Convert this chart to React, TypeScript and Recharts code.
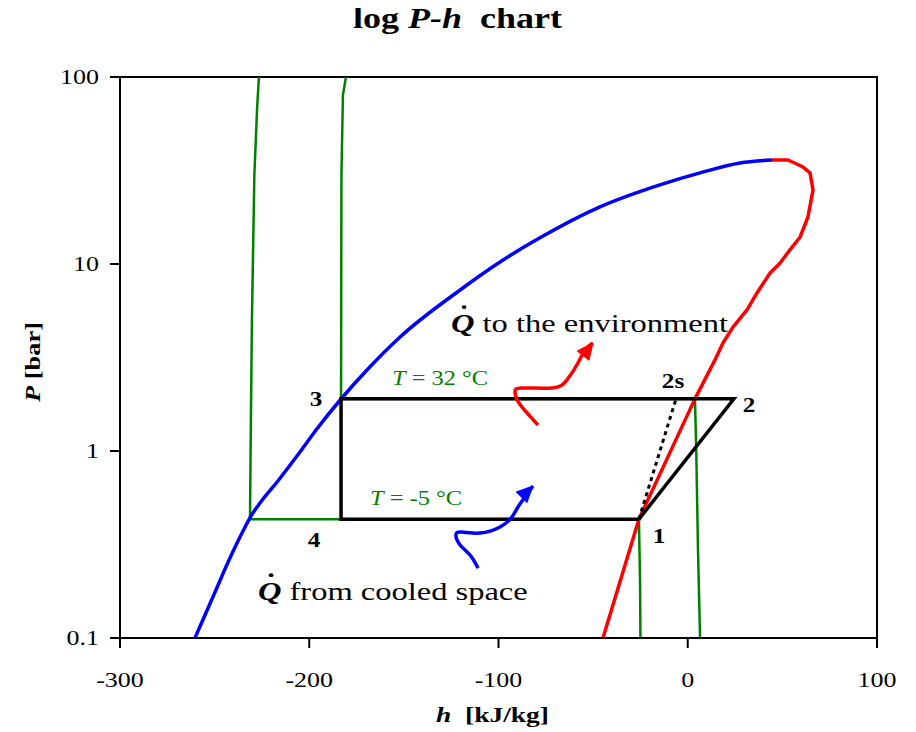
import React from 'react';
import { ComposedChart, Line, XAxis, YAxis, ReferenceArea, ReferenceDot, Label } from 'recharts';

const H_TICKS = [-300, -200, -100, 0, 100];
const P_TICKS = [0.1, 1, 10, 100];

// saturated liquid (blue)
const liquidH = [-260.4, -250.9, -241.9, -233.9, -230.8, -226.0, -217.0, -204.9, -196.4, -183.2, -169.5, -152.0, -120.3, -99.2, -78.1, -46.4, -14.7, 6.5, 27.6, 44.5];
const liquidP = [0.1, 0.1657, 0.2678, 0.3923, 0.449, 0.527, 0.683, 0.988, 1.295, 1.897, 2.71, 4.07, 7.26, 10.25, 13.8, 20.2, 26.5, 30.7, 34.7, 36.0];

// saturated vapour (red)
const vapourH = [44.5, 53.0, 60.9, 64.6, 66.2, 63.5, 59.3, 54.0, 48.7, 43.5, 36.6, 31.3, 23.9, 18.6, 14.4, 3.8, -25.8, -44.8];
const vapourP = [36.0, 36.0, 33.0, 30.7, 24.9, 17.8, 13.9, 11.9, 10.1, 8.95, 7.0, 5.68, 4.6, 3.78, 3.07, 1.9, 0.432, 0.1];

// isotherm T = -5 C (green)
const isoColdH = [-226.6, -227.5, -229.0, -230.3, -231.0, -231.3, -25.8, -25.2, -25.0];
const isoColdP = [100, 70, 30, 5, 1, 0.432, 0.432, 0.2, 0.1];

// isotherm T = 32 C (green)
const isoHotH = [-180.6, -182.2, -183.0, -183.2, 3.8, 4.5, 5.4, 6.5];
const isoHotP = [100, 80, 30, 1.897, 1.9, 1.0, 0.3, 0.1];

// refrigeration cycle 1-2-3-4-1 (black)
const cycleH = [-25.8, 24.4, -183.2, -183.2, -25.8];
const cycleP = [0.432, 1.9, 1.9, 0.432, 0.432];

// isentropic compression 1-2s (dashed)
const isentropicH = [-25.8, -6.2];
const isentropicP = [0.432, 1.9];

// heat rejection arrow (red)
const arrowOutH = [-79.1, -89.2, -91.3, -87.6, -71.7, -63.8, -58.0, -54.3, -50.1];
const arrowOutP = [1.377, 1.807, 2.068, 2.173, 2.173, 2.40, 2.955, 3.47, 3.78];

// heat absorption arrow (blue)
const arrowInH = [-110.8, -115.1, -120.3, -122.5, -119.3, -109.8, -99.2, -92.9, -89.7, -86.0, -81.8];
const arrowInP = [0.2366, 0.278, 0.3144, 0.3556, 0.369, 0.364, 0.3923, 0.4436, 0.5018, 0.5675, 0.65];

const toRows = (hs: number[], ps: number[]) => hs.map((h, i) => ({ h, p: ps[i] }));

const SERIF = '"Liberation Serif", "Times New Roman", serif';
const GREEN = '#008000';

type Note = { h: number; p: number; kind: string; text: string };
const NOTES: Note[] = [
  { h: -196.4, p: 1.9, kind: 'pt', text: '3' },
  { h: -197.5, p: 0.334, kind: 'pt', text: '4' },
  { h: -15.2, p: 0.351, kind: 'pt', text: '1' },
  { h: 32.4, p: 1.762, kind: 'pt', text: '2' },
  { h: -7.8, p: 2.366, kind: 'pt', text: '2s' },
  { h: -130.9, p: 2.455, kind: 'T', text: ' = 32 °C' },
  { h: -143.6, p: 0.561, kind: 'T', text: ' = -5 °C' },
  { h: -125.1, p: 4.83, kind: 'Q', text: ' to the environment' },
  { h: -227.1, p: 0.178, kind: 'Q', text: ' from cooled space' },
];

const stretch = (x: number, y: number, s: number) => `translate(${x} ${y}) scale(${s} 1) translate(${-x} ${-y})`;

const NoteShape = (props: any) => {
  const { cx, cy, note } = props;
  if (cx == null || cy == null) return <g />;
  if (note.kind === 'pt') {
    return (
      <text x={cx} y={cy} textAnchor="middle" dominantBaseline="central" fontFamily={SERIF} fontWeight="bold" fontSize={21} fill="#000"
        transform={stretch(cx, cy, 1.2)}>
        {note.text}
      </text>
    );
  }
  if (note.kind === 'T') {
    return (
      <text x={cx} y={cy} textAnchor="middle" dominantBaseline="central" fontFamily={SERIF} fontSize={20} fill={GREEN}
        transform={stretch(cx, cy, 1.22)}>
        <tspan fontStyle="italic">T</tspan>
        <tspan>{note.text}</tspan>
      </text>
    );
  }
  return (
    <g transform={stretch(cx, cy, 1.25)}>
      <text x={cx} y={cy} textAnchor="start" dominantBaseline="central" fontFamily={SERIF} fontSize={26} fill="#000">
        <tspan fontStyle="italic" fontWeight="bold">Q</tspan>
        <tspan>{note.text}</tspan>
      </text>
      <circle cx={cx + 10.5} cy={cy - 16} r={1.9} fill="#000" />
    </g>
  );
};

const arrowDot = (count: number, color: string, angleDeg: number) => (props: any) => {
  const { cx, cy, index } = props;
  if (index !== count - 1 || cx == null) return <g key={`d${index}`} />;
  const a = (angleDeg * Math.PI) / 180;
  const L = 16;
  const W = 7.5;
  const dx = Math.cos(a);
  const dy = Math.sin(a);
  const bx = cx - L * dx;
  const by = cy - L * dy;
  const pts = `${cx},${cy} ${bx - W * dy},${by + W * dx} ${bx + W * dy},${by - W * dx}`;
  return <polygon key={`d${index}`} points={pts} fill={color} stroke={color} />;
};

const XTick = (props: any) => {
  const { x, y, payload } = props;
  const ty = y + 37;
  return (
    <text x={x} y={ty} textAnchor="middle" fontFamily={SERIF} fontSize={20} fill="#000" transform={stretch(x, ty, 1.3)}>
      {payload.value}
    </text>
  );
};

const YTick = (props: any) => {
  const { x, y, payload } = props;
  const tx = x - 9;
  return (
    <text x={tx} y={y} textAnchor="end" dominantBaseline="central" fontFamily={SERIF} fontSize={20} fill="#000" transform={stretch(tx, y, 1.3)}>
      {payload.value}
    </text>
  );
};

export default function App() {
  const lineBase = { type: 'linear' as const, dataKey: 'p', dot: false, isAnimationActive: false, activeDot: false as const };
  return (
    <div style={{ position: 'relative', width: 900, height: 724 }}>
      <div
        style={{
          position: 'absolute', left: 0, top: -5, width: 900, textAlign: 'center',
          fontFamily: SERIF, fontWeight: 'bold', fontSize: 30, lineHeight: '30px',
          transform: 'scaleX(1.2)', transformOrigin: '452px 0px',
        }}
      >
        <span>log <i>P-h</i>&nbsp; chart</span>
      </div>
      <ComposedChart width={900} height={724} margin={{ top: 69, right: 31, bottom: 54, left: 52 }}>
        <XAxis
          type="number" dataKey="h" domain={[-300, 100]} ticks={H_TICKS} allowDataOverflow
          axisLine={{ stroke: '#000', strokeWidth: 2 }} tickLine={{ stroke: '#000', strokeWidth: 2 }} tickSize={10}
          tick={<XTick />} height={40}
        >
          <Label
            content={(p: any) => {
              const vb = p.viewBox || {};
              const cx = vb.x + vb.width / 2 - 6;
              const cy = vb.y + 84;
              return (
                <text x={cx} y={cy} textAnchor="middle" fontFamily={SERIF} fontWeight="bold" fontSize={22} fill="#000" transform={stretch(cx, cy, 1.25)}>
                  <tspan fontStyle="italic">h</tspan>
                  <tspan>{'\u00a0 [kJ/kg]'}</tspan>
                </text>
              );
            }}
          />
        </XAxis>
        <YAxis
          type="number" scale="log" domain={[0.1, 100]} ticks={P_TICKS} allowDataOverflow
          axisLine={{ stroke: '#000', strokeWidth: 2 }} tickLine={{ stroke: '#000', strokeWidth: 2 }} tickSize={10}
          tick={<YTick />} width={60}
        >
          <Label
            content={() => {
              const cx = 24;
              const cy = 354;
              return (
                <text x={cx} y={cy} textAnchor="middle" dominantBaseline="central" fontFamily={SERIF} fontWeight="bold" fontSize={22} fill="#000"
                  transform={`rotate(-90 ${cx} ${cy}) ${stretch(cx, cy, 1.2)}`}>
                  <tspan fontStyle="italic">P</tspan>
                  <tspan>{' [bar]'}</tspan>
                </text>
              );
            }}
          />
        </YAxis>
        <ReferenceArea x1={-300} x2={100} y1={0.1} y2={100} fill="none" stroke="#000" strokeWidth={2} ifOverflow="visible" />

        <Line {...lineBase} data={toRows(isoColdH, isoColdP)} stroke={GREEN} strokeWidth={2.5} />
        <Line {...lineBase} data={toRows(isoHotH, isoHotP)} stroke={GREEN} strokeWidth={2.5} />
        <Line {...lineBase} type="monotoneX" data={toRows(liquidH, liquidP)} stroke="#0000FF" strokeWidth={3.5} />
        <Line {...lineBase} data={toRows(vapourH, vapourP)} stroke="#FF0000" strokeWidth={3.5} strokeLinejoin="round" />
        <Line {...lineBase} data={toRows(cycleH, cycleP)} stroke="#000" strokeWidth={3.5} strokeLinejoin="miter" />
        <Line {...lineBase} data={toRows(isentropicH, isentropicP)} stroke="#000" strokeWidth={3} strokeDasharray="4 4" />
        <Line {...lineBase} type="natural" data={toRows(arrowOutH, arrowOutP)} stroke="#FF0000" strokeWidth={3.5}
          dot={arrowDot(arrowOutH.length, '#FF0000', -52)} />
        <Line {...lineBase} type="natural" data={toRows(arrowInH, arrowInP)} stroke="#0000FF" strokeWidth={3.5}
          dot={arrowDot(arrowInH.length, '#0000FF', -45)} />

        {NOTES.map((n, i) => (
          <ReferenceDot key={i} x={n.h} y={n.p} r={1} ifOverflow="visible"
            shape={(props: any) => <NoteShape {...props} note={n} />} />
        ))}
      </ComposedChart>
    </div>
  );
}
